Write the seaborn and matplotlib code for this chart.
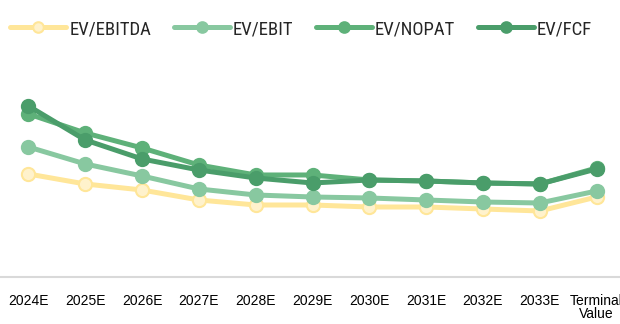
import matplotlib
matplotlib.use("Agg")
import matplotlib.pyplot as plt
import seaborn as sns
import pandas as pd

periods = ["2024E", "2025E", "2026E", "2027E", "2028E", "2029E",
           "2030E", "2031E", "2032E", "2033E", "Terminal\nValue"]

ev_ebitda = [10.3, 9.3, 8.7, 7.7, 7.2, 7.2, 7.0, 7.0, 6.8, 6.6, 8.0]
ev_ebit = [13.0, 11.3, 10.1, 8.8, 8.2, 8.0, 7.9, 7.7, 7.5, 7.4, 8.6]
ev_nopat = [16.3, 14.4, 12.9, 11.2, 10.2, 10.2, 9.7, 9.6, 9.4, 9.3, 10.9]
ev_fcf = [17.1, 13.7, 11.8, 10.7, 9.9, 9.4, 9.7, 9.6, 9.4, 9.3, 10.8]

series = {
    "EV/EBITDA": ev_ebitda,
    "EV/EBIT": ev_ebit,
    "EV/NOPAT": ev_nopat,
    "EV/FCF": ev_fcf,
}

line_colors = {
    "EV/EBITDA": "#FFE699",
    "EV/EBIT": "#88C8A0",
    "EV/NOPAT": "#5EB179",
    "EV/FCF": "#4A9D6A",
}
face_colors = {
    "EV/EBITDA": "#FFF2CC",
    "EV/EBIT": "#88C8A0",
    "EV/NOPAT": "#5EB179",
    "EV/FCF": "#4A9D6A",
}

df = pd.DataFrame(
    [(name, p, v) for name, vals in series.items() for p, v in zip(periods, vals)],
    columns=["series", "period", "multiple"],
)

sns.set_theme(style="white")
plt.rcParams["font.family"] = ["Liberation Sans", "DejaVu Sans"]

fig = plt.figure(figsize=(6.2, 3.24), dpi=100)
ax = fig.add_axes([0.0, 0.145, 625 / 620, 0.67])

for name in series:
    sub = df[df["series"] == name]
    sns.lineplot(
        data=sub, x="period", y="multiple", ax=ax,
        color=line_colors[name], linewidth=3.6,
        marker="o", markersize=9.5,
        markerfacecolor=face_colors[name],
        markeredgecolor=line_colors[name], markeredgewidth=1.5,
        label=name, sort=False,
    )

ax.set_xlim(-0.5, len(periods) - 0.5)
ax.set_ylim(0, 21.7)
ax.set_xlabel("")
ax.set_ylabel("")
ax.set_yticks([])
ax.tick_params(axis="x", length=0, labelsize=10, pad=12, colors="#000000")
for lbl in ax.get_xticklabels():
    lbl.set_linespacing(0.95)
for side in ("top", "right", "left"):
    ax.spines[side].set_visible(False)
ax.spines["bottom"].set_color("#D9D9D9")
ax.spines["bottom"].set_linewidth(1.5)

ax.legend(
    loc="center left", bbox_to_anchor=(10 / 620, 1 - 29 / 324),
    bbox_transform=fig.transFigure,
    ncol=4, frameon=False,
    prop={"family": ["Roboto Condensed", "DejaVu Sans"], "size": 13.5},
    handlelength=3.0, handletextpad=0.16, columnspacing=1.2,
    borderaxespad=0.0, borderpad=0.0, markerscale=0.8,
)

fig.savefig("out.png", dpi=100)
